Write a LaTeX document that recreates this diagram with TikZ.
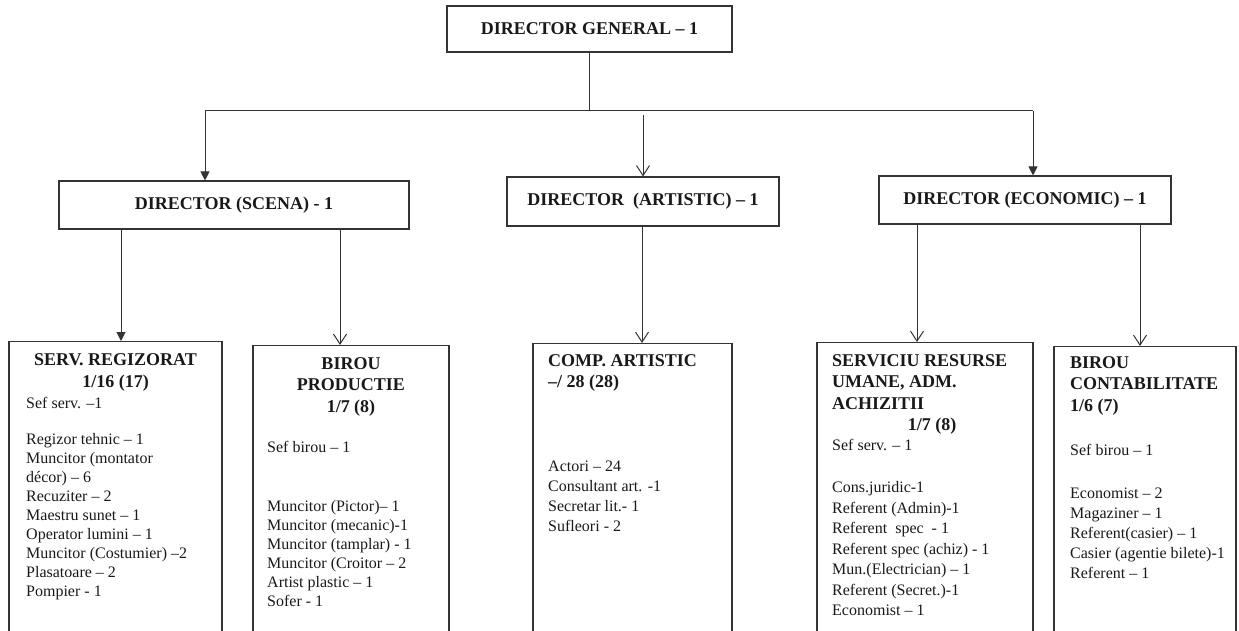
\documentclass[tikz,border=0pt]{standalone}
\usepackage{fontspec}
\setmainfont{Liberation Serif}
\usetikzlibrary{arrows.meta,positioning}

\tikzset{
  boss/.style={draw=black!80, line width=1.1pt, text=black!90, font=\fontsize{18}{22}\selectfont\bfseries, inner sep=0pt},
  unitbox/.style={draw=black!80, line width=1.1pt, anchor=north, minimum height=330pt, inner sep=0pt},
  unithead/.style={text=black!90, font=\fontsize{18}{21.5}\selectfont\bfseries, inner sep=0pt, anchor=north},
  unittext/.style={text=black!90, font=\fontsize{16}{19}\selectfont, align=left, inner sep=0pt, anchor=north west},
  link/.style={draw=black!80, line width=1pt},
  arrfull/.style={link, -{Triangle[length=9pt,width=9pt]}},
  arropen/.style={link, -{Straight Barb[length=10pt,width=13pt]}}
}

\begin{document}
\begin{tikzpicture}[x=1pt,y=-1pt]
			%%%%% START %%%%%
			\useasboundingbox (0,0) rectangle (1239,631);
			\clip (0,0) rectangle (1239,631);
			
			\node[boss, minimum width=285pt, minimum height=46pt] (dg) at (589.5,29) {DIRECTOR GENERAL -- 1};
			
			\node[boss, minimum width=350pt, minimum height=48pt] (scena) at (234,205) {DIRECTOR (SCENA) - 1};
			\node[boss, minimum width=272pt, minimum height=49pt] (artistic) at (643,201.5) {DIRECTOR\ \ (ARTISTIC) -- 1};
			\node[boss, minimum width=292pt, minimum height=48pt] (economic) at (1025,200) {DIRECTOR (ECONOMIC) -- 1};
			
			\coordinate (barl) at (205,111);
			\coordinate (barr) at (1033,111);
			\draw[link] (dg.south) -- (dg.south |- barl);
			\draw[link] (barl) -- (barr);
			\draw[arrfull] (barl) -- (barl |- scena.north);
			\draw[arropen] ([yshift=-4pt]artistic.north |- barl) -- (artistic.north);
			\draw[arrfull] (barr) -- (barr |- economic.north);
			
			\node[unitbox, minimum width=213pt] (regiz) at (115.5,341) {};
			\node[unitbox, minimum width=196pt] (prod) at (351,345) {};
			\node[unitbox, minimum width=199pt] (comp) at (632.5,343) {};
			\node[unitbox, minimum width=216pt] (resurse) at (925,342) {};
			\node[unitbox, minimum width=182pt] (contab) at (1145,346) {};
			
			\coordinate (r1) at ([xshift=5.5pt]regiz.north);
			\coordinate (r2) at ([xshift=-11pt]prod.north);
			\coordinate (r3) at ([xshift=9.5pt]comp.north);
			\coordinate (r4) at ([xshift=-8pt]resurse.north);
			\coordinate (r5) at ([xshift=-5pt]contab.north);
			\draw[arrfull] (scena.south -| r1) -- (r1);
			\draw[arropen] (scena.south -| r2) -- (r2);
			\draw[arropen] (artistic.south -| r3) -- (r3);
			\draw[arropen] (economic.south -| r4) -- (r4);
			\draw[arropen] (economic.south -| r5) -- (r5);
			
			%% serv. regizorat
			\node[unithead, align=center, font=\fontsize{18}{22}\selectfont\bfseries] at (115.5,353) {SERV. REGIZORAT\\1/16 (17)};
			\node[unittext] at (26,397) {Sef serv. --1\\[17pt]
				Regizor tehnic -- 1\\ Muncitor (montator\\ décor) -- 6\\ Recuziter -- 2\\
				Maestru sunet -- 1\\ Operator lumini -- 1\\ Muncitor (Costumier) --2\\
				Plasatoare -- 2\\ Pompier - 1};
			
			%% birou productie
			\node[unithead, align=center] at (351,357) {BIROU\\PRODUCTIE\\1/7 (8)};
			\node[unittext] at (267,441) {Sef birou -- 1\\[40pt]
				Muncitor (Pictor)-- 1\\ Muncitor (mecanic)-1\\ Muncitor (tamplar) - 1\\
				Muncitor (Croitor -- 2\\ Artist plastic -- 1\\ Sofer - 1};
			
			%% comp. artistic
			\node[unithead, anchor=north west, align=left] at (548,354) {COMP. ARTISTIC\\--/ 28 (28)};
			\node[unittext, font=\fontsize{16}{20}\selectfont] at (548,461) {Actori -- 24\\
				Consultant art. -1\\ Secretar lit.- 1\\ Sufleori - 2};
			
			%% serviciu resurse umane
			\node[unithead, anchor=north west, align=left] at (832,354) {SERVICIU RESURSE\\UMANE, ADM.\\ACHIZITII};
			\node[unithead, anchor=center] at (932,426) {1/7 (8)};
			\node[unittext, font=\fontsize{16}{20.5}\selectfont] at (832,439) {Sef serv. -- 1\\[22pt]
				Cons.juridic-1\\ Referent (Admin)-1\\ Referent\ \ spec\ \ - 1\\
				Referent spec (achiz) - 1\\ Mun.(Electrician) -- 1\\ Referent (Secret.)-1\\
				Economist -- 1};
			
			%% birou contabilitate
			\node[unithead, anchor=north west, align=left] at (1070,356) {BIROU\\CONTABILITATE\\1/6 (7)};
			\node[unittext, font=\fontsize{16}{20}\selectfont] at (1070,444) {Sef birou -- 1\\[23pt]
				Economist -- 2\\ Magaziner -- 1\\ Referent(casier) -- 1\\
				Casier (agentie bilete)-1\\ Referent -- 1};
			
			%%%%% END %%%%%
\end{tikzpicture}
\end{document}
